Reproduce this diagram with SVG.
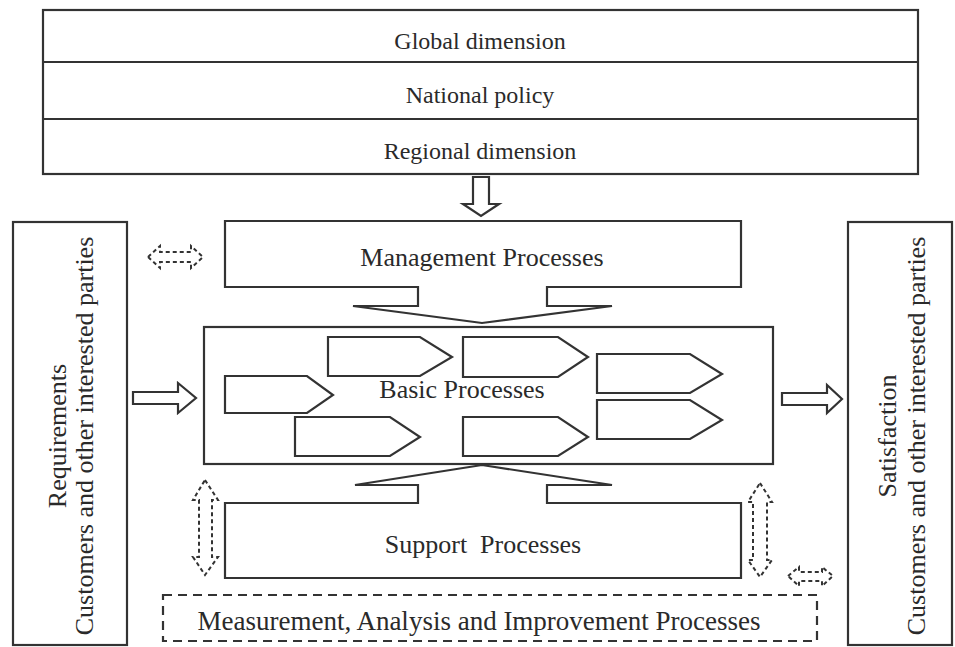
<svg xmlns="http://www.w3.org/2000/svg" width="955" height="647" viewBox="0 0 955 647">
  <style>
    .box { fill: #ffffff; stroke: #333333; stroke-width: 2.2; }
    .ln { fill: none; stroke: #333333; stroke-width: 2.2; stroke-linejoin: miter; }
    .flow { fill: #ffffff; stroke: #333333; stroke-width: 2.2; stroke-linejoin: miter; }
    .dash { fill: none; stroke: #333333; stroke-width: 2.2; stroke-dasharray: 9 6; }
    .dflow { fill: none; stroke: #333333; stroke-width: 2; stroke-dasharray: 4 3; stroke-linejoin: miter; }
    .lbl { font-family: "Liberation Serif", "Times New Roman", serif; fill: #2a2a2a; text-anchor: middle; }
    .top { font-size: 24px; }
    .mid { font-size: 26px; }
    .wide { font-size: 27px; }
  </style>
  <rect width="955" height="647" fill="#ffffff"/>

  <!-- context levels -->
  <g id="context">
    <rect class="box" x="43" y="10" width="875" height="164"/>
    <line class="ln" x1="43" y1="62" x2="918" y2="62"/>
    <line class="ln" x1="43" y1="119" x2="918" y2="119"/>
    <text class="lbl top" x="480" y="49">Global dimension</text>
    <text class="lbl top" x="480" y="103">National policy</text>
    <text class="lbl top" x="480" y="159">Regional dimension</text>
  </g>

  <!-- customers: requirements side -->
  <g id="requirements">
    <rect class="box" x="13" y="222" width="114" height="423"/>
    <text class="lbl mid" transform="translate(66 436) rotate(-90)">Requirements</text>
    <text class="lbl mid" transform="translate(93 436) rotate(-90)">Customers and other interested parties</text>
  </g>

  <!-- customers: satisfaction side -->
  <g id="satisfaction">
    <rect class="box" x="848" y="222" width="104" height="423"/>
    <text class="lbl mid" transform="translate(896 436) rotate(-90)">Satisfaction</text>
    <text class="lbl mid" transform="translate(925 436) rotate(-90)">Customers and other interested parties</text>
  </g>

  <!-- management processes with funnel outlet -->
  <g id="management">
    <path class="flow" d="M225,221 L741,221 L741,287 L547,287 L547,306 L612,306 L482,323 L353,306 L418,306 L418,287 L225,287 Z"/>
    <text class="lbl mid" x="482" y="266">Management Processes</text>
  </g>

  <!-- basic processes -->
  <g id="basic">
    <rect class="box" x="204" y="327" width="569" height="137"/>
    <path class="flow" d="M328,337 L420,337 L452,357 L420,376 L328,376 Z"/>
    <path class="flow" d="M463,337 L558,337 L588,357 L558,377 L463,377 Z"/>
    <path class="flow" d="M225,376 L307,376 L333,395 L307,413 L225,413 Z"/>
    <path class="flow" d="M295,417 L390,417 L420,437 L390,456 L295,456 Z"/>
    <path class="flow" d="M463,417 L558,417 L588,437 L558,456 L463,456 Z"/>
    <path class="flow" d="M597,354 L690,354 L722,374 L690,393 L597,393 Z"/>
    <path class="flow" d="M597,400 L690,400 L722,420 L690,439 L597,439 Z"/>
    <text class="lbl mid" x="462" y="398">Basic Processes</text>
  </g>

  <!-- support processes with funnel inlet -->
  <g id="support">
    <path class="flow" d="M225,503 L418,503 L418,485 L355,485 L482,465 L612,485 L547,485 L547,503 L741,503 L741,578 L225,578 Z"/>
    <text class="lbl mid" x="483" y="553" xml:space="preserve">Support  Processes</text>
  </g>

  <!-- measurement, analysis and improvement -->
  <g id="measurement">
    <rect class="dash" x="163" y="595" width="654" height="46"/>
    <text class="lbl wide" x="479" y="630">Measurement, Analysis and Improvement Processes</text>
  </g>

  <!-- connectors -->
  <g id="connectors">
    <path class="flow" d="M473,177 L489,177 L489,204 L499,204 L481,216 L463,204 L473,204 Z"/>
    <path class="flow" d="M133,392 L178,392 L178,383 L196,398 L178,413 L178,404 L133,404 Z"/>
    <path class="flow" d="M782,393 L827,393 L827,385 L842,399 L827,413 L827,405 L782,405 Z"/>
    <path class="dflow" d="M148,257 L160,246 L160,252 L191,252 L191,246 L203,257 L191,268 L191,262 L160,262 L160,268 Z"/>
    <path class="dflow" d="M205,480 L218,500 L212,500 L212,557 L218,557 L205,575 L193,557 L199,557 L199,500 L193,500 Z"/>
    <path class="dflow" d="M760,483 L772,502 L767,502 L767,560 L772,560 L760,577 L748,560 L753,560 L753,502 L748,502 Z"/>
    <path class="dflow" d="M788,576 L799,567 L799,572 L822,572 L822,567 L833,576 L822,586 L822,581 L799,581 L799,586 Z"/>
  </g>
</svg>
